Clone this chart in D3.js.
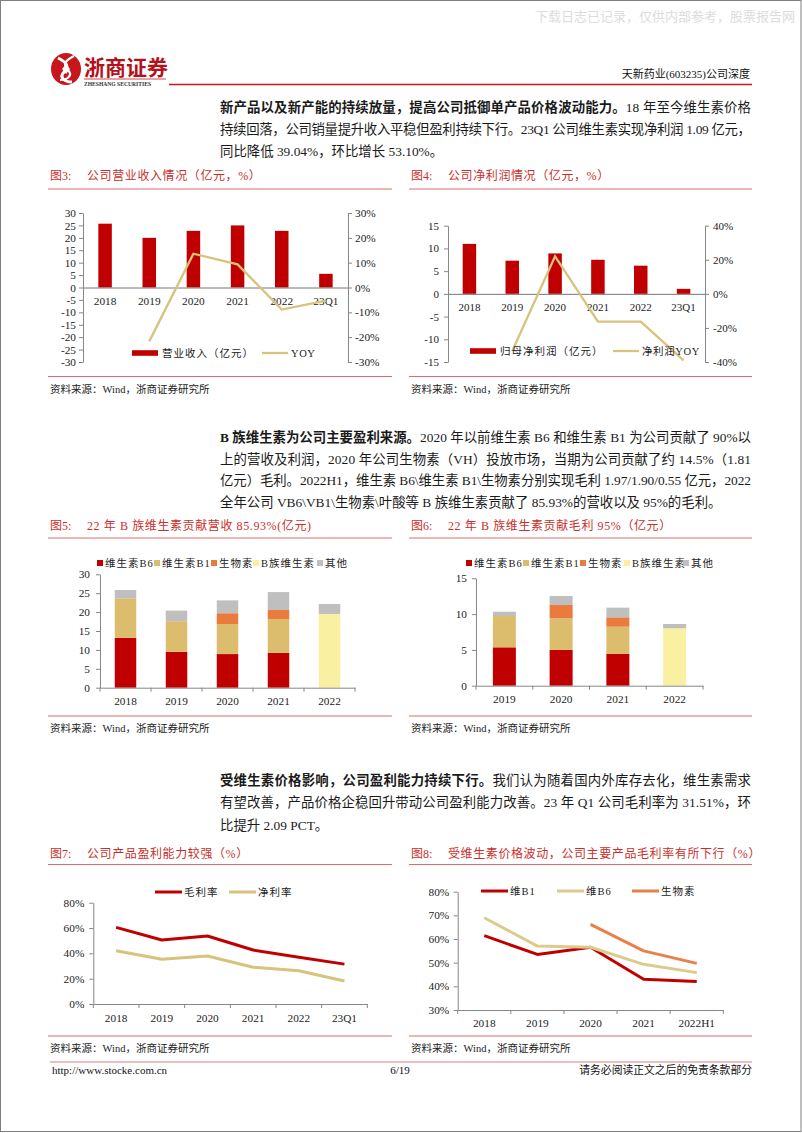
<!DOCTYPE html>
<html><head><meta charset="utf-8">
<script src="https://cdn.jsdelivr.net/npm/d3@7"></script>
<style>html,body{margin:0;padding:0;background:#fff;}svg{display:block}</style>
</head><body>
<svg id="page" width="802" height="1133"></svg>
<script>
// ---------------- DATA ----------------
const years3 = ["2018","2019","2020","2021","2022","23Q1"];
const revenue = [25.7, 20.0, 22.8, 25.0, 22.8, 5.5];
const revenueYoy = [null, -21.7, 13.6, 9.3, -8.9, -5.3];
const revTicksL = [-30,-25,-20,-15,-10,-5,0,5,10,15,20,25,30];
const revTicksR = [-30,-20,-10,0,10,20,30];

const profit = [11.0, 7.3, 8.9, 7.5, 6.2, 1.1];
const profitYoy = [null, -33.6, 22.0, -16.3, -16.3, -39.04];
const profTicksL = [-15,-10,-5,0,5,10,15];
const profTicksR = [-40,-20,0,20,40];

const years5 = ["2018","2019","2020","2021","2022"];
const revB6 = [13.2, 9.5, 8.9, 9.2, 0];
const revB1 = [10.45, 8.1, 7.95, 8.9, 0];
const revBio = [0, 0, 2.85, 2.45, 0];
const revBGroup = [0, 0, 0, 0, 19.5];
const revOther = [2.2, 2.8, 3.4, 4.75, 2.65];
const stackTicks5 = [0,5,10,15,20,25,30];

const years6 = ["2019","2020","2021","2022"];
const gpB6 = [5.36, 4.99, 4.43, 0];
const gpB1 = [4.37, 4.42, 3.81, 0];
const gpBio = [0, 1.86, 1.31, 0];
const gpBGroup = [0, 0, 0, 8.02];
const gpOther = [0.6, 1.26, 1.35, 0.6];
const stackTicks6 = [0,5,10,15];

const stackKeys = ["维生素B6","维生素B1","生物素","B族维生素","其他"];
const stackColors = ["#c00000","#dcbd6e","#ea7b3c","#f9f0a2","#bfbfbf"];

const years7 = ["2018","2019","2020","2021","2022","23Q1"];
const grossMargin = [60.5, 50.5, 53.7, 42.6, 36.9, 31.5];
const netMargin = [42.1, 35.3, 37.9, 29.0, 26.3, 18.2];
const ticks7 = [0,20,40,60,80];

const years8 = ["2018","2019","2020","2021","2022H1"];
const marginB1 = [61.4, 53.5, 56.5, 43.0, 42.0];
const marginB6 = [69.0, 57.0, 56.5, 49.3, 45.8];
const marginBio = [null, null, 66.2, 55.0, 49.7];
const ticks8 = [30,40,50,60,70,80];

// ---------------- STYLE ----------------
const SERIF = "'Liberation Serif','Noto Sans CJK SC',serif";
const RED = "#c00000";
const TAN = "#d8c27c";
const TITLE_RED = "#c9302c";
const AXIS = "#878787";

const svg = d3.select("#page");

function text(g, x, y, s, o = {}) {
  const t = g.append("text").attr("x", x).attr("y", y)
    .attr("font-family", o.font || SERIF)
    .attr("font-size", o.size || 12)
    .attr("fill", o.fill || "#222")
    .attr("dy", "0.36em")
    .text(s);
  if (o.anchor) t.attr("text-anchor", o.anchor);
  if (o.weight) t.attr("font-weight", o.weight);
  if (o.ls) t.attr("letter-spacing", o.ls);
  return t;
}

// ---------------- PAGE FRAME ----------------
svg.append("rect").attr("x",0.5).attr("y",0.5).attr("width",800.5).attr("height",1131)
  .attr("fill","none").attr("stroke","#7f7f7f").attr("stroke-width",1);

// watermark
text(svg, 535, 16, "下载日志已记录，仅供内部参考，股票报告网", {size: 13, fill: "#dcdcdc"});

// logo
const logo = svg.append("g");
logo.append("ellipse").attr("cx",66).attr("cy",69).attr("rx",15).attr("ry",16).attr("fill","#c8161d");
logo.append("path").attr("d","M58,58 C66,62 70,66 64,72 C59,77 64,82 72,82").attr("fill","none").attr("stroke","#fff").attr("stroke-width",3);
logo.append("path").attr("d","M74,56 C66,60 62,64 68,70 C73,75 68,80 60,80").attr("fill","none").attr("stroke","#fff").attr("stroke-width",2.2);
logo.append("path").attr("d","M66,64 L70,69 L66,74 L62,69 Z").attr("fill","#fff");
text(svg, 84, 67, "浙商证券", {size: 21, weight: "bold", fill: "#b3121b", font: "'Noto Sans CJK SC',sans-serif"});
svg.append("line").attr("x1",84).attr("x2",166).attr("y1",79).attr("y2",79).attr("stroke","#c8161d").attr("stroke-width",0.8);
text(svg, 84, 83.5, "ZHESHANG SECURITIES", {size: 5.6, fill: "#333", weight: "bold"});
svg.append("line").attr("x1",169).attr("x2",752).attr("y1",84.5).attr("y2",84.5).attr("stroke","#c8161d").attr("stroke-width",1.4);
text(svg, 750, 74, "天新药业(603235)公司深度", {size: 11, anchor: "end", fill: "#111"});

// footer
svg.append("line").attr("x1",50).attr("x2",752).attr("y1",1062).attr("y2",1062).attr("stroke","#e07a80").attr("stroke-width",1.2);
text(svg, 52, 1070, "http://www.stocke.com.cn", {size: 11, fill: "#111"});
text(svg, 400, 1070, "6/19", {size: 11, anchor: "middle", fill: "#111"});
text(svg, 752, 1070, "请务必阅读正文之后的免责条款部分", {size: 10.8, anchor: "end", fill: "#111"});

// ---------------- PARAGRAPHS ----------------
function paragraph(lines, y0, lh) {
  lines.forEach((segs, i) => {
    const t = svg.append("text").attr("x", 220).attr("y", y0 + i*lh).attr("dy","0.36em")
      .attr("font-family", SERIF).attr("font-size", 13.4).attr("fill","#1a1a1a");
    segs.forEach(([s, b]) => {
      const ts = t.append("tspan").text(s);
      if (b) ts.attr("font-weight","bold");
    });
    if (i < lines.length - 1) t.attr("textLength", 531).attr("lengthAdjust","spacing");
  });
}
paragraph([
  [["新产品以及新产能的持续放量，提高公司抵御单产品价格波动能力。", true], ["18 年至今维生素价格", false]],
  [["持续回落，公司销量提升收入平稳但盈利持续下行。23Q1 公司维生素实现净利润 1.09 亿元，", false]],
  [["同比降低 39.04%，环比增长 53.10%。", false]]
], 107, 22);
paragraph([
  [["B 族维生素为公司主要盈利来源。", true], ["2020 年以前维生素 B6 和维生素 B1 为公司贡献了 90%以", false]],
  [["上的营收及利润，2020 年公司生物素（VH）投放市场，当期为公司贡献了约 14.5%（1.81", false]],
  [["亿元）毛利。2022H1，维生素 B6\\维生素 B1\\生物素分别实现毛利 1.97/1.90/0.55 亿元，2022", false]],
  [["全年公司 VB6\\VB1\\生物素\\叶酸等 B 族维生素贡献了 85.93%的营收以及 95%的毛利。", false]]
], 437, 21.7);
paragraph([
  [["受维生素价格影响，公司盈利能力持续下行。", true], ["我们认为随着国内外库存去化，维生素需求", false]],
  [["有望改善，产品价格企稳回升带动公司盈利能力改善。23 年 Q1 公司毛利率为 31.51%，环", false]],
  [["比提升 2.09 PCT。", false]]
], 780, 22.5);

// ---------------- FIGURE FRAMES ----------------
function figFrame(x0, x1, yTitle, yRule, yRule2, num, title) {
  text(svg, x0, yTitle, "图" + num + ":", {size: 12, fill: TITLE_RED});
  text(svg, x0 + 37, yTitle, title, {size: 12, fill: TITLE_RED, ls: 0.6});
  svg.append("line").attr("x1",x0-2).attr("x2",x1).attr("y1",yRule).attr("y2",yRule).attr("stroke","#df6a6a").attr("stroke-width",1.2);
  svg.append("line").attr("x1",x0-2).attr("x2",x1).attr("y1",yRule2).attr("y2",yRule2).attr("stroke","#df6a6a").attr("stroke-width",1.2);
  text(svg, x0, yRule2 + 12.5, "资料来源：Wind，浙商证券研究所", {size: 10.5, fill: "#222"});
}
figFrame(50, 392, 176, 189, 376.5, 3, "公司营业收入情况（亿元，%）");
figFrame(411, 752, 176, 189, 376.5, 4, "公司净利润情况（亿元，%）");
figFrame(50, 392, 526, 538, 716, 5, "22 年 B 族维生素贡献营收 85.93%(亿元)");
figFrame(411, 752, 526, 538, 716, 6, "22 年 B 族维生素贡献毛利 95%（亿元）");
figFrame(50, 392, 854, 864.5, 1036, 7, "公司产品盈利能力较强（%）");
figFrame(411, 752, 854, 864.5, 1036, 8, "受维生素价格波动，公司主要产品毛利率有所下行（%）");

function styleAxis(g, size) {
  g.select(".domain").attr("stroke", AXIS);
  g.selectAll(".tick line").attr("stroke", AXIS);
  g.selectAll(".tick text").attr("font-family", SERIF).attr("font-size", size || 11).attr("fill","#222");
}
function boundaryTicks(g, x, y, len) {
  const n = x.domain().length;
  for (let i = 0; i <= n; i++) {
    const px = x.range()[0] + i * x.step();
    g.append("line").attr("x1",px).attr("x2",px).attr("y1",y).attr("y2",y+len).attr("stroke",AXIS);
  }
}
const plain = d => String(d);
const pct = d => d + "%";

// ---------------- BAR + LINE COMBO (fig 3, 4) ----------------
function combo(cfg) {
  const g = svg.append("g");
  const xl = d3.scaleBand().domain(cfg.cats).range([cfg.x0, cfg.x1]);
  const yL = d3.scaleLinear().domain(cfg.domL).range([cfg.yB, cfg.yT]);
  const yR = d3.scaleLinear().domain(cfg.domR).range([cfg.yB, cfg.yT]);
  g.selectAll("rect.bar").data(cfg.bars).join("rect").attr("class","bar")
    .attr("x",(d,i)=>xl(cfg.cats[i]) + xl.bandwidth()/2 - cfg.bw/2).attr("width", cfg.bw)
    .attr("y", d => yL(Math.max(0,d))).attr("height", d => Math.abs(yL(d) - yL(0)))
    .attr("fill", RED);
  const ax = g.append("g").attr("transform",`translate(${cfg.x0},0)`)
    .call(d3.axisLeft(yL).tickValues(cfg.ticksL).tickSize(4).tickPadding(cfg.padL).tickSizeOuter(0).tickFormat(plain));
  styleAxis(ax, cfg.fs);
  const ar = g.append("g").attr("transform",`translate(${cfg.x1},0)`)
    .call(d3.axisRight(yR).tickValues(cfg.ticksR).tickSize(4).tickPadding(cfg.padR).tickSizeOuter(0).tickFormat(pct));
  styleAxis(ar, cfg.fs);
  const ab = g.append("g").attr("transform",`translate(0,${yL(0)})`)
    .call(d3.axisBottom(xl).tickSize(0).tickPadding(cfg.padB).tickSizeOuter(0));
  styleAxis(ab, cfg.fs);
  ab.select(".domain").attr("stroke","#777");
  const pts = cfg.line.map((v,i)=>[v,i]).filter(d=>d[0]!==null);
  g.append("path").datum(pts).attr("fill","none").attr("stroke",TAN).attr("stroke-width",2.3)
    .attr("d", d3.line().x(d => xl(cfg.cats[d[1]]) + xl.bandwidth()/2).y(d => yR(d[0])));
  const L = cfg.leg;
  g.append("rect").attr("x",L.rx).attr("y",L.y-2.8).attr("width",26).attr("height",5.6).attr("fill",RED);
  text(g, L.rx + 30, L.y, L.t1, {size: 10.5, ls: 1});
  g.append("line").attr("x1",L.lx).attr("x2",L.lx+26).attr("y1",L.y).attr("y2",L.y).attr("stroke",TAN).attr("stroke-width",2.3);
  text(g, L.lx + 29, L.y, L.t2, {size: 10.5, ls: 0.6});
}
combo({cats: years3, bars: revenue, line: revenueYoy, x0: 83, x1: 348, yB: 362, yT: 213,
  domL: [-30,30], domR: [-30,30], ticksL: revTicksL, ticksR: revTicksR, padL: 3, padR: 3, padB: 9, fs: 11.3, bw: 13.5,
  leg: {rx: 132, lx: 262, y: 353, t1: "营业收入（亿元）", t2: "YOY"}});
combo({cats: years3, bars: profit, line: profitYoy, x0: 448, x1: 705, yB: 362, yT: 225.7,
  domL: [-15,15], domR: [-40,40], ticksL: profTicksL, ticksR: profTicksR, padL: 5, padR: 4, padB: 9, fs: 11, bw: 13.5,
  leg: {rx: 470, lx: 613, y: 351, t1: "归母净利润（亿元）", t2: "净利润YOY"}});

// ---------------- STACKED BARS (fig 5, 6) ----------------
function stacked(cfg) {
  const g = svg.append("g");
  const rows = cfg.cats.map((c,i) => ({cat: c, "维生素B6": cfg.series[0][i], "维生素B1": cfg.series[1][i],
    "生物素": cfg.series[2][i], "B族维生素": cfg.series[3][i], "其他": cfg.series[4][i]}));
  const st = d3.stack().keys(stackKeys)(rows);
  const x = d3.scaleBand().domain(cfg.cats).range([cfg.x0, cfg.x1]);
  const y = d3.scaleLinear().domain(cfg.dom).range([cfg.yB, cfg.yT]);
  st.forEach((s, k) => {
    g.selectAll(null).data(s).join("rect")
      .attr("x", d => x(d.data.cat) + x.bandwidth()/2 - cfg.bw/2).attr("width", cfg.bw)
      .attr("y", d => y(d[1])).attr("height", d => y(d[0]) - y(d[1]))
      .attr("fill", stackColors[k]);
  });
  const ax = g.append("g").attr("transform",`translate(${cfg.x0},0)`)
    .call(d3.axisLeft(y).tickValues(cfg.ticks).tickSize(4).tickPadding(cfg.padL).tickSizeOuter(0).tickFormat(plain));
  styleAxis(ax, 11.3);
  const ab = g.append("g").attr("transform",`translate(0,${cfg.yB})`)
    .call(d3.axisBottom(x).tickSize(0).tickPadding(cfg.padB).tickSizeOuter(0));
  styleAxis(ab, 11.3);
  boundaryTicks(g, x, cfg.yB, 4);
  stackKeys.forEach((k, i) => {
    const lx = cfg.leg[i];
    g.append("rect").attr("x", lx).attr("y", cfg.legY - 3).attr("width", 6).attr("height", 6).attr("fill", stackColors[i]);
    text(g, lx + 8, cfg.legY, k, {size: 10.5, ls: 1});
  });
}
stacked({cats: years5, series: [revB6, revB1, revBio, revBGroup, revOther], x0: 100, x1: 355, yB: 687.7, yT: 574.3,
  dom: [0,30], ticks: stackTicks5, padL: 6, padB: 9, bw: 21.5, legY: 563, leg: [97, 154, 211, 253, 317]});
stacked({cats: years6, series: [gpB6, gpB1, gpBio, gpBGroup, gpOther], x0: 476, x1: 703, yB: 685.7, yT: 578.3,
  dom: [0,15], ticks: stackTicks6, padL: 5, padB: 9, bw: 23, legY: 563, leg: [466, 523, 580, 624, 683]});

// ---------------- LINE CHARTS (fig 7, 8) ----------------
function lines(cfg) {
  const g = svg.append("g");
  const x = d3.scaleBand().domain(cfg.cats).range([cfg.x0, cfg.x1]);
  const y = d3.scaleLinear().domain(cfg.dom).range([cfg.yB, cfg.yT]);
  const ax = g.append("g").attr("transform",`translate(${cfg.x0},0)`)
    .call(d3.axisLeft(y).tickValues(cfg.ticks).tickSize(4).tickPadding(cfg.padL).tickSizeOuter(0).tickFormat(pct));
  styleAxis(ax, 11.3);
  const ab = g.append("g").attr("transform",`translate(0,${cfg.yB})`)
    .call(d3.axisBottom(x).tickSize(0).tickPadding(cfg.padB).tickSizeOuter(0));
  styleAxis(ab, 11.3);
  boundaryTicks(g, x, cfg.yB, 4);
  cfg.series.forEach((s) => {
    const pts = s.vals.map((v,i)=>[v,i]).filter(d=>d[0]!==null);
    g.append("path").datum(pts).attr("fill","none").attr("stroke", s.color).attr("stroke-width", 3)
      .attr("stroke-linejoin","round")
      .attr("d", d3.line().x(d => x(cfg.cats[d[1]]) + x.bandwidth()/2).y(d => y(d[0])));
    g.append("line").attr("x1", s.lx).attr("x2", s.lx + 27).attr("y1", cfg.legY).attr("y2", cfg.legY)
      .attr("stroke", s.color).attr("stroke-width", 3);
    text(g, s.lx + 29, cfg.legY, s.name, {size: 10.5, ls: 1});
  });
}
lines({cats: years7, x0: 93.3, x1: 367.3, yB: 1004, yT: 902.7, dom: [0,80], ticks: ticks7, padL: 5, padB: 9.5, legY: 892,
  series: [{name: "毛利率", vals: grossMargin, color: RED, lx: 155},
           {name: "净利率", vals: netMargin, color: TAN, lx: 229}]});
lines({cats: years8, x0: 457.7, x1: 723.3, yB: 1010, yT: 891.7, dom: [30,80], ticks: ticks8, padL: 4.5, padB: 8.5, legY: 891,
  series: [{name: "维B1", vals: marginB1, color: RED, lx: 481},
           {name: "维B6", vals: marginB6, color: "#dccb8c", lx: 557},
           {name: "生物素", vals: marginBio, color: "#e8804a", lx: 632}]});
</script>
</body></html>
